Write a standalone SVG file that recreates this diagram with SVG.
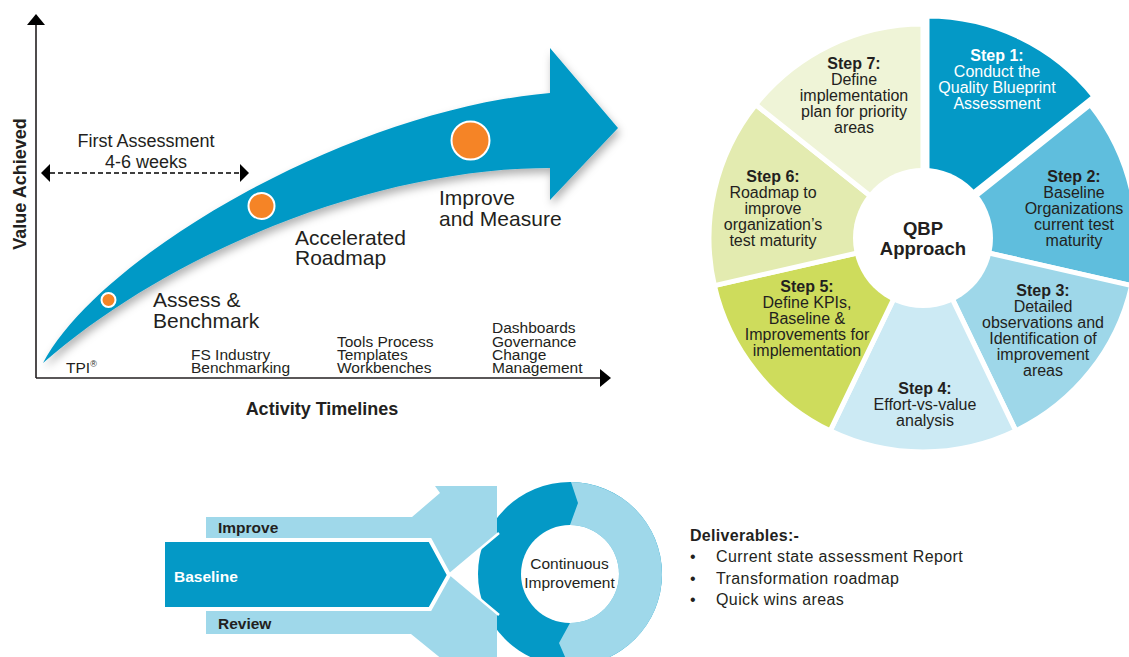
<svg xmlns="http://www.w3.org/2000/svg" width="1129" height="657" viewBox="0 0 1129 657">
<style>
.t{font-family:"Liberation Sans",Arial,Helvetica,sans-serif;fill:#231f20}
.b{font-weight:bold}
.c{text-anchor:middle}
.lbl{font-size:21px}
.sm{font-size:15.5px}
.pie{font-size:16px;text-anchor:middle}
.wedge{stroke:#fff;stroke-width:5;stroke-linejoin:miter}
.axis{stroke:#231f20;stroke-width:1.6;fill:none}
.dot{fill:#f58426;stroke:#fff;stroke-width:2}
</style>
<defs>
<marker id="axisHead" markerUnits="userSpaceOnUse" viewBox="0 0 11 18" refX="0" refY="9" markerWidth="11" markerHeight="18" orient="auto">
<path d="M0,0 L11,9 L0,18 Z" fill="#000"/>
</marker>
<marker id="dashHead" markerUnits="userSpaceOnUse" viewBox="0 0 9 18" refX="0" refY="9" markerWidth="9" markerHeight="18" orient="auto-start-reverse">
<path d="M0,0 L9,9 L0,18 Z" fill="#000"/>
</marker>
<filter id="shadow" x="-10%" y="-10%" width="130%" height="140%">
<feDropShadow dx="2" dy="5" stdDeviation="4" flood-color="#000" flood-opacity="0.3"/>
</filter>
</defs>

<g id="connectors">
<line class="axis" x1="36" y1="378" x2="36" y2="25" marker-end="url(#axisHead)"/>
<line class="axis" x1="36" y1="378" x2="600" y2="378" marker-end="url(#axisHead)"/>
<line x1="50" y1="173" x2="240" y2="173" stroke="#000" stroke-width="1.6" stroke-dasharray="5 3" marker-start="url(#dashHead)" marker-end="url(#dashHead)"/>
</g>

<g id="roadmap-arrow">
<path d="M43,363 C100,255 350,110 550,93 L550,48 L618,128 L550,200 L550,168 C380,168 175,248 43,363 Z" fill="#0499c6" filter="url(#shadow)"/>
<circle class="dot" cx="108.5" cy="300" r="7"/>
<circle class="dot" cx="261.5" cy="206" r="13"/>
<circle class="dot" cx="470.5" cy="140.5" r="19"/>
</g>

<g id="chart-labels">
<text class="t b" font-size="18" text-anchor="middle" transform="translate(26,184) rotate(-90)">Value Achieved</text>
<text class="t b c" font-size="18" x="322" y="415">Activity Timelines</text>
<text class="t c" font-size="18" x="146" y="147">First Assessment</text>
<text class="t c" font-size="18" x="146" y="168">4-6 weeks</text>
<text class="t lbl" x="153" y="306.5">Assess &amp;</text>
<text class="t lbl" x="153" y="327.5">Benchmark</text>
<text class="t lbl" x="295" y="244.5">Accelerated</text>
<text class="t lbl" x="295" y="265">Roadmap</text>
<text class="t lbl" x="439" y="205">Improve</text>
<text class="t lbl" x="439" y="226">and Measure</text>
<text class="t sm" x="66" y="373">TPI<tspan font-size="9" dy="-6">®</tspan></text>
<text class="t sm" x="191" y="359.5">FS Industry</text>
<text class="t sm" x="191" y="373">Benchmarking</text>
<text class="t sm" x="337" y="346.5">Tools Process</text>
<text class="t sm" x="337" y="359.5">Templates</text>
<text class="t sm" x="337" y="373">Workbenches</text>
<text class="t sm" x="492" y="333">Dashboards</text>
<text class="t sm" x="492" y="346.5">Governance</text>
<text class="t sm" x="492" y="359.5">Change</text>
<text class="t sm" x="492" y="373">Management</text>
</g>

<g id="qbp-pie">
<g id="step1" transform="translate(4,-8)">
<path class="wedge" d="M923,238 L923,24 A214,214 0 0 1 1090.31,104.57 Z" fill="#0499c6"/>
</g>
<g id="step2"><path class="wedge" d="M923,238 L1090.31,104.57 A214,214 0 0 1 1131.63,285.62 Z" fill="#5fbedd"/></g>
<g id="step3"><path class="wedge" d="M923,238 L1131.63,285.62 A214,214 0 0 1 1015.85,430.81 Z" fill="#9ed7e9"/></g>
<g id="step4"><path class="wedge" d="M923,238 L1015.85,430.81 A214,214 0 0 1 830.15,430.81 Z" fill="#cceaf4"/></g>
<g id="step5"><path class="wedge" d="M923,238 L830.15,430.81 A214,214 0 0 1 714.37,285.62 Z" fill="#cedc5c"/></g>
<g id="step6"><path class="wedge" d="M923,238 L714.37,285.62 A214,214 0 0 1 755.69,104.57 Z" fill="#e3ebb0"/></g>
<g id="step7"><path class="wedge" d="M923,238 L755.69,104.57 A214,214 0 0 1 923,24 Z" fill="#eff4d7"/></g>
<g id="qbp-center">
<circle cx="923" cy="238" r="70" fill="#fff"/>
<text class="t b c" font-size="18.5" x="923" y="235">QBP</text>
<text class="t b c" font-size="18.5" x="923" y="255">Approach</text>
</g>
<g id="step-texts">
<text class="t pie" fill="#fff" style="fill:#fff" x="997"><tspan class="b" x="997" y="60.5">Step 1:</tspan><tspan x="997" y="76.5">Conduct the</tspan><tspan x="997" y="92.5">Quality Blueprint</tspan><tspan x="997" y="108.5">Assessment</tspan></text>
<text class="t pie" x="1074"><tspan class="b" x="1074" y="181.5">Step 2:</tspan><tspan x="1074" y="197.5">Baseline</tspan><tspan x="1074" y="213.5">Organizations</tspan><tspan x="1074" y="229.5">current test</tspan><tspan x="1074" y="245.5">maturity</tspan></text>
<text class="t pie" x="1043"><tspan class="b" x="1043" y="295.5">Step 3:</tspan><tspan x="1043" y="311.5">Detailed</tspan><tspan x="1043" y="327.5">observations and</tspan><tspan x="1043" y="343.5">Identification of</tspan><tspan x="1043" y="359.5">improvement</tspan><tspan x="1043" y="375.5">areas</tspan></text>
<text class="t pie" x="925"><tspan class="b" x="925" y="393.5">Step 4:</tspan><tspan x="925" y="409.5">Effort-vs-value</tspan><tspan x="925" y="425.5">analysis</tspan></text>
<text class="t pie" x="807"><tspan class="b" x="807" y="291.5">Step 5:</tspan><tspan x="807" y="307.5">Define KPIs,</tspan><tspan x="807" y="323.5">Baseline &amp;</tspan><tspan x="807" y="339.5">Improvements for</tspan><tspan x="807" y="355.5">implementation</tspan></text>
<text class="t pie" x="773"><tspan class="b" x="773" y="181.5">Step 6:</tspan><tspan x="773" y="197.5">Roadmap to</tspan><tspan x="773" y="213.5">improve</tspan><tspan x="773" y="229.5">organization’s</tspan><tspan x="773" y="245.5">test maturity</tspan></text>
<text class="t pie" x="854"><tspan class="b" x="854" y="68.5">Step 7:</tspan><tspan x="854" y="84.5">Define</tspan><tspan x="854" y="100.5">implementation</tspan><tspan x="854" y="116.5">plan for priority</tspan><tspan x="854" y="132.5">areas</tspan></text>
</g>
</g>

<g id="continuous-improvement">
<circle cx="570" cy="574" r="92" fill="#0499c6"/>
<path d="M571,482 A92,92 0 0 1 569,666 L559,643 L570,623 A49,49 0 0 0 570,525 L578,503 Z" fill="#9fd8ea"/>
<circle cx="570" cy="574" r="49" fill="#fff"/>
<text class="t c" font-size="15.5" x="569.5" y="569">Continuous</text>
<text class="t c" font-size="15.5" x="569.5" y="587.5">Improvement</text>
</g>

<g id="improve-review">
<path d="M206,517 L412,517 L440,493 L435,486 L497,486 L497,535 L450,574 L497,613 L497,660 L443,660 L411,634 L206,634 L206,611 L400,611 L400,538 L206,538 Z" fill="#9fd8ea"/>
<polyline points="499,533 450,574 499,615" fill="none" stroke="#fff" stroke-width="2.5"/>
<text class="t b" font-size="15.5" x="218" y="533">Improve</text>
<text class="t b" font-size="15.5" x="218" y="628.5">Review</text>
</g>

<g id="baseline">
<path d="M163,540 L430,540 L449,575 L430,609 L163,609 Z" fill="#0499c6" stroke="#fff" stroke-width="4"/>
<text class="t b" font-size="15.5" style="fill:#fff" x="174" y="581.5">Baseline</text>
</g>

<g id="deliverables">
<text class="t b" font-size="16" letter-spacing="0.3" x="690" y="541">Deliverables:-</text>
<text class="t" font-size="16" x="690" y="562">•</text>
<text class="t" font-size="16" letter-spacing="0.4" x="716" y="562">Current state assessment Report</text>
<text class="t" font-size="16" x="690" y="584">•</text>
<text class="t" font-size="16" letter-spacing="0.4" x="716" y="584">Transformation roadmap</text>
<text class="t" font-size="16" x="690" y="605">•</text>
<text class="t" font-size="16" letter-spacing="0.4" x="716" y="605">Quick wins areas</text>
</g>
</svg>
